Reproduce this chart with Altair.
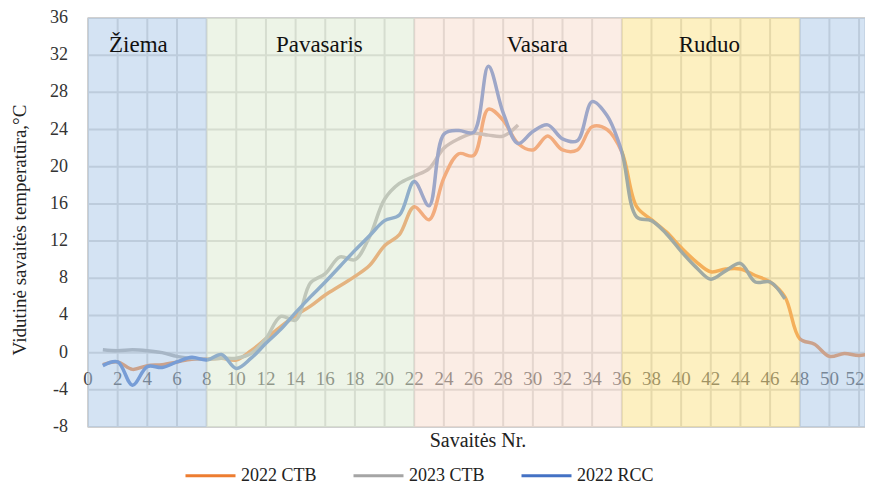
import altair as alt
import pandas as pd

# ---- data ----
series_names = ["2022 CTB", "2023 CTB", "2022 RCC"]
series_colors = ["#ED7D31", "#A5A5A5", "#4472C4"]

weeks_ctb_2022 = list(range(1, 54))
ctb_2022 = [-1.3, -1.0, -1.8, -1.4, -1.3, -1.0, -0.7, -0.7, -0.6, -0.8,
            0.2, 1.5, 2.8, 4.0, 5.0, 6.2, 7.2, 8.2, 9.4, 11.5,
            12.7, 15.7, 14.3, 18.8, 21.4, 21.2, 26.2, 25.0, 22.5, 21.8,
            23.3, 21.8, 21.8, 24.3, 24.0, 21.6, 15.7, 14.3, 13.0, 11.3,
            9.8, 8.7, 9.0, 9.0, 8.3, 7.6, 6.0, 1.5, 0.9, -0.4,
            -0.1, -0.3, 0.0]

weeks_ctb_2023 = list(range(1, 30))
ctb_2023 = [0.3, 0.2, 0.3, 0.2, 0.0, -0.4, -0.6, -0.7, -0.6, -0.6,
            -0.1, 1.5, 3.9, 3.5, 7.5, 8.5, 10.3, 10.0, 12.5, 16.5,
            18.2, 19.0, 19.8, 22.0, 23.0, 23.6, 23.4, 23.3, 24.5]

weeks_rcc_2022 = list(range(1, 48))
rcc_2022 = [-1.4, -1.0, -3.5, -1.5, -1.6, -1.0, -0.5, -0.8, -0.2, -1.7,
            -0.6, 1.0, 2.5, 4.3, 6.0, 7.6, 9.3, 11.0, 12.6, 14.2,
            14.8, 18.4, 15.8, 23.5, 23.9, 23.7, 30.8, 25.8, 22.5, 23.8,
            24.5, 23.0, 22.8, 27.0, 25.5, 21.6, 14.6, 14.2, 12.8, 10.9,
            9.2, 7.9, 8.8, 9.6, 7.6, 7.6, 5.8]

season_names = ["Žiema", "Pavasaris", "Vasara", "Ruduo", ""]
season_start = [0, 8, 22, 36, 48]
season_end = [8, 22, 36, 48, 54]
season_fill = ["#A9C7E8", "#DCE9CF", "#F8DCCB", "#FCE184", "#A9C7E8"]
season_label_x = [3.4, 15.6, 30.3, 41.9, 50]

x_ticks = list(range(0, 53, 2))
y_ticks = list(range(-8, 37, 4))
x_title = "Savaitės Nr."
y_title = "Vidutinė savaitės temperatūra,°C"

X_DOMAIN = [0, 52.4]
Y_DOMAIN = [-8, 36]
SERIF = "Times New Roman, Liberation Serif, serif"
W, H = 777, 409

# ---- tables ----
lines_df = pd.concat([
    pd.DataFrame({"week": weeks_ctb_2022, "temp": ctb_2022, "series": series_names[0]}),
    pd.DataFrame({"week": weeks_ctb_2023, "temp": ctb_2023, "series": series_names[1]}),
    pd.DataFrame({"week": weeks_rcc_2022, "temp": rcc_2022, "series": series_names[2]}),
])
seasons_df = pd.DataFrame({"name": season_names, "start": season_start, "end": season_end,
                           "fill": season_fill, "lx": season_label_x})
xtick_df = pd.DataFrame({"x": x_ticks, "label": [str(v) for v in x_ticks], "zero": 0})
ytick_df = pd.DataFrame({"y": y_ticks, "label": [str(v) for v in y_ticks]})
titles_df = pd.DataFrame({"t": [x_title]})
ytitle_df = pd.DataFrame({"t": [y_title]})

xs = alt.Scale(domain=X_DOMAIN, nice=False, zero=False)
ys = alt.Scale(domain=Y_DOMAIN, nice=False, zero=False)

vgrid = alt.Chart(xtick_df).mark_rule(color="#D0D0D0", strokeWidth=2).encode(
    x=alt.X("x:Q", scale=xs, axis=None)
)
hgrid = alt.Chart(ytick_df).mark_rule(color="#D0D0D0", strokeWidth=2).encode(
    y=alt.Y("y:Q", scale=ys, axis=None)
)

# x tick labels sit next to the zero line, under the translucent season bands
xlabels = alt.Chart(xtick_df).mark_text(font=SERIF, fontSize=19, color="#454545",
                                        baseline="middle", dy=26).encode(
    x=alt.X("x:Q", scale=xs, axis=None),
    y=alt.Y("zero:Q", scale=ys, axis=None),
    text="label:N",
).transform_filter(alt.datum.x < 52)

xlabel_last = alt.Chart(xtick_df).mark_text(font=SERIF, fontSize=19, color="#454545",
                                            baseline="middle", dy=26, dx=-4).encode(
    x=alt.X("x:Q", scale=xs, axis=None),
    y=alt.Y("zero:Q", scale=ys, axis=None),
    text="label:N",
).transform_filter(alt.datum.x >= 52)

lines = alt.Chart(lines_df).mark_line(interpolate="catmull-rom", strokeWidth=3.5, clip=True).encode(
    x=alt.X("week:Q", scale=xs, axis=None),
    y=alt.Y("temp:Q", scale=ys, axis=None),
    color=alt.Color("series:N",
                    scale=alt.Scale(domain=series_names, range=series_colors),
                    sort=series_names,
                    legend=alt.Legend(title=None, orient="none", direction="horizontal",
                                      legendX=96, legendY=431, symbolType="stroke",
                                      symbolSize=2500, symbolStrokeWidth=3,
                                      labelOffset=4, columnPadding=30,
                                      labelFont=SERIF, labelFontSize=18,
                                      labelColor="#222222")),
)

bands = alt.Chart(seasons_df).mark_rect(opacity=0.5, clip=True).encode(
    x=alt.X("start:Q", scale=xs, axis=None),
    x2="end:Q",
    y=alt.value(0),
    y2=alt.value(H),
    fill=alt.Fill("fill:N", scale=None),
)

season_text = alt.Chart(seasons_df).mark_text(font=SERIF, fontSize=23, color="#111111").encode(
    x=alt.X("lx:Q", scale=xs, axis=None),
    y=alt.value(27),
    text="name:N",
)

ylabels = alt.Chart(ytick_df).mark_text(font=SERIF, fontSize=18, color="#333333",
                                        align="right", baseline="middle").encode(
    x=alt.value(-20),
    y=alt.Y("y:Q", scale=ys, axis=None),
    text="label:N",
)

xtitle = alt.Chart(titles_df).mark_text(font=SERIF, fontSize=20, color="#222222",
                                        baseline="middle").encode(
    x=alt.value(390),
    y=alt.value(423),
    text="t:N",
)

ytitle = alt.Chart(ytitle_df).mark_text(font=SERIF, fontSize=19, color="#222222",
                                        baseline="middle", angle=270).encode(
    x=alt.value(-68),
    y=alt.value(212),
    text="t:N",
)

chart = alt.layer(vgrid, hgrid, xlabels, xlabel_last, lines, bands, season_text,
                  ylabels, xtitle, ytitle).properties(
    width=W, height=H,
    autosize=alt.AutoSizeParams(type="none"),
    padding={"left": 80, "top": 10, "right": 0, "bottom": 58},
).configure_view(
    stroke="#D9D9D9", strokeWidth=1.5
)

chart.save("out.html", embed_options={"renderer": "svg", "actions": False})
